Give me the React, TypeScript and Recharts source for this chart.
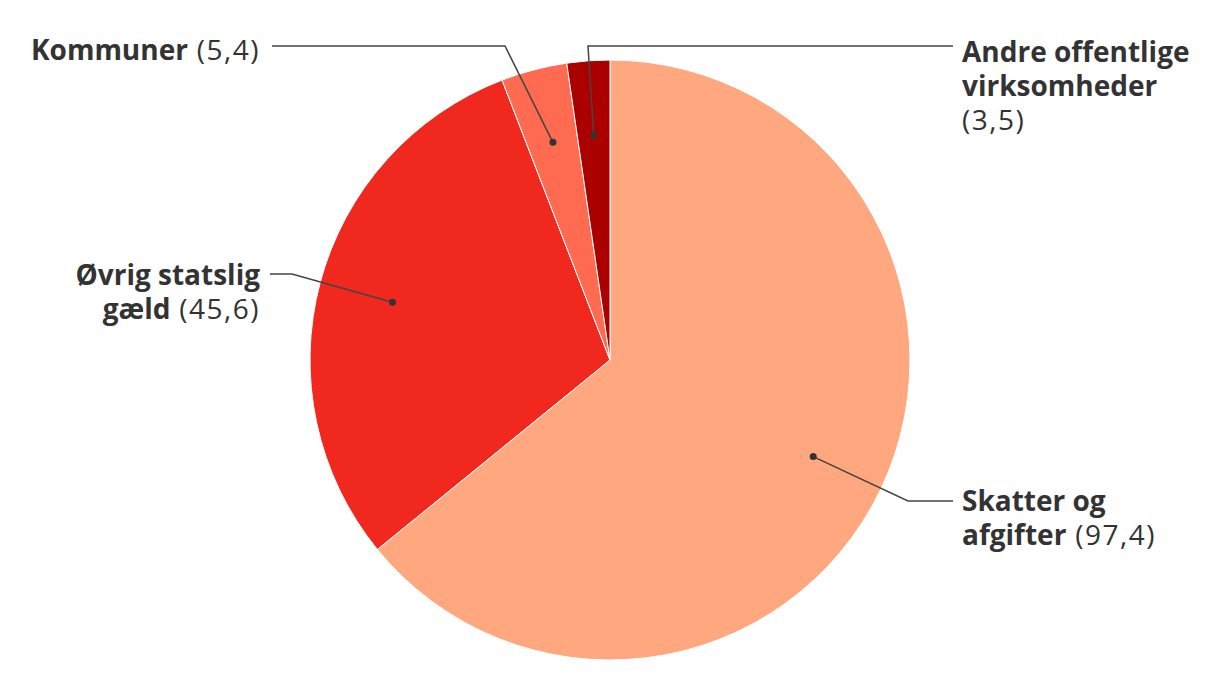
import React from "react";
import { PieChart, Pie, Cell } from "recharts";

const categories = ["Skatter og afgifter", "Øvrig statslig gæld", "Kommuner", "Andre offentlige virksomheder"];
const values = [97.4, 45.6, 5.4, 3.5];
const valueLabels = ["97,4", "45,6", "5,4", "3,5"];
const nameLines = [["Skatter og", "afgifter"], ["Øvrig statslig", "gæld"], ["Kommuner"], ["Andre offentlige", "virksomheder"]];
const valueOnOwnLine = [false, false, false, true];
const colors = ["#FFA880", "#F0281E", "#FF6B50", "#AA0000"];

const data = categories.map((name, i) => ({ name, value: values[i] }));

// label layout offsets relative to pie centre
const layout = [
  { elbow: [298, 141], end: [343, 141], tx: 352, ty: 151, anchor: "start" },
  { elbow: [-318, -86], end: [-340, -86], tx: -350, ty: -75, anchor: "end" },
  { elbow: [-105, -314], end: [-338, -314], tx: -350, ty: -300, anchor: "end" },
  { elbow: [-22, -314], end: [343, -314], tx: 352, ty: -298, anchor: "start" },
];

const LINE_H = 34;
const RAD = Math.PI / 180;
const FONT = "'Open Sans', sans-serif";
const FS = 28;

const renderLabel = (props: any) => {
  const { cx, cy, midAngle, outerRadius, index } = props;
  const r = outerRadius * 0.75;
  const dx = cx + r * Math.cos(-midAngle * RAD);
  const dy = cy + r * Math.sin(-midAngle * RAD);
  const L = layout[index];
  const pts = `${dx},${dy} ${cx + L.elbow[0]},${cy + L.elbow[1]} ${cx + L.end[0]},${cy + L.end[1]}`;
  const lines = nameLines[index];
  const val = `(${valueLabels[index]})`;
  const x = cx + L.tx;
  const spans: React.ReactNode[] = [];
  lines.forEach((ln, j) => {
    const last = j === lines.length - 1;
    spans.push(
      <tspan key={"b" + j} x={x} dy={j === 0 ? 0 : LINE_H} fontWeight={700}>{ln}</tspan>
    );
    if (last && !valueOnOwnLine[index]) {
      spans.push(
        <tspan key="v" fontWeight={400} letterSpacing={1.5}>{" " + val}</tspan>
      );
    }
  });
  if (valueOnOwnLine[index]) {
    spans.push(
      <tspan key="v" x={x} dy={LINE_H} fontWeight={400} letterSpacing={1.5}>{val}</tspan>
    );
  }
  return (
    <g>
      <polyline points={pts} fill="none" stroke="#444444" strokeWidth={1.5} />
      <circle cx={dx} cy={dy} r={3.5} fill="#333333" />
      <text x={x} y={cy + L.ty} textAnchor={L.anchor} fill="#333333" fontSize={FS} fontFamily={FONT}>
        {spans}
      </text>
    </g>
  );
};

export default function App() {
  return (
    <div style={{ position: "absolute", left: 0, top: 0, width: 1220, height: 700, background: "#fff" }}>
      <PieChart width={1220} height={700} margin={{ top: 0, right: 0, bottom: 0, left: 0 }}>
        <Pie
          data={data}
          dataKey="value"
          nameKey="name"
          cx={610}
          cy={360}
          outerRadius={300}
          startAngle={90}
          endAngle={-270}
          stroke="#ffffff"
          strokeWidth={1}
          label={renderLabel}
          labelLine={false}
          isAnimationActive={false}
        >
          {data.map((d, i) => (
            <Cell key={d.name} fill={colors[i]} />
          ))}
        </Pie>
      </PieChart>
    </div>
  );
}
